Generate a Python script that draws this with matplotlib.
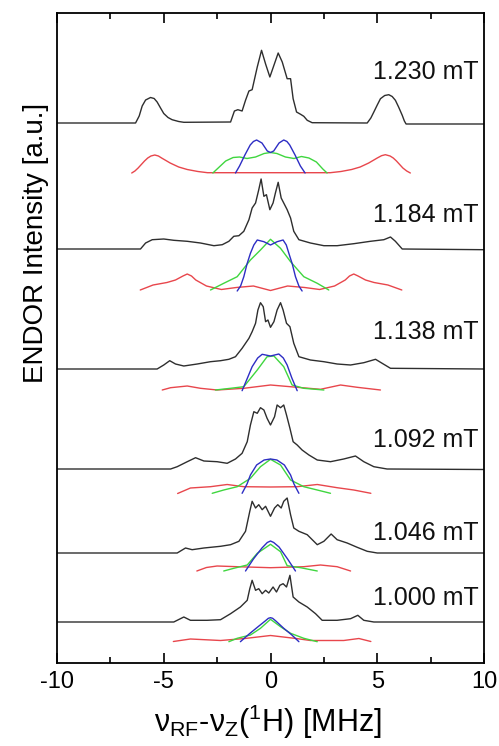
import matplotlib
matplotlib.use("Agg")
import matplotlib.pyplot as plt
from matplotlib.ticker import MultipleLocator

plt.rcParams['font.family'] = ['Liberation Sans', 'DejaVu Sans']
plt.rcParams['mathtext.default'] = 'regular'
plt.rcParams['axes.unicode_minus'] = False

# ---------------- data (x in MHz, intensity in arbitrary units above each baseline) --------
fields = ["1.230 mT", "1.184 mT", "1.138 mT", "1.092 mT", "1.046 mT", "1.000 mT"]

exp_1230 = [(-10, 0), (-6.32, 0), (-6.15, 7), (-6.01, 17), (-5.85, 23), (-5.62, 25.5), (-5.45, 24.5),
            (-5.31, 21), (-5.15, 15), (-5.0, 9.5), (-4.8, 5.5), (-4.61, 3.3), (-4.3, 1.5),
            (-4.06, 0.7), (-1.87, 1), (-1.69, 12), (-1.53, 13.3), (-1.33, 12),
            (-1.17, 22.7), (-1.01, 32), (-0.86, 33.3), (-0.62, 56), (-0.42, 72.7), (-0.23, 59),
            (-0.03, 46), (0.16, 57.7), (0.36, 70), (0.55, 61), (0.78, 44.3), (0.94, 44.3),
            (1.06, 24.3), (1.22, 11), (1.41, 8.7), (1.56, 6.7), (1.72, 2.7), (1.95, 0.3),
            (4.53, 0), (4.7, 5), (4.84, 11), (5.0, 18), (5.15, 24.3), (5.35, 27.5), (5.54, 28.3),
            (5.7, 26.5), (5.85, 22.7), (6.0, 16), (6.17, 7.7), (6.27, 2), (6.35, -1), (10, -1)]
exp_1184 = [(-10, 0), (-6.09, 0), (-5.85, 6), (-5.54, 9.3), (-5.0, 10), (-4.53, 8.7), (-3.9, 7.7),
            (-3.28, 6), (-2.65, 3.3), (-2.26, 4.3), (-1.95, 7.7), (-1.72, 12.7), (-1.48, 13.3),
            (-1.25, 17.7), (-1.01, 29.3), (-0.86, 41), (-0.7, 46), (-0.55, 59.3), (-0.44, 70),
            (-0.31, 52.7), (-0.19, 54.3), (-0.03, 39.3), (0.12, 46), (0.23, 56), (0.36, 66.7),
            (0.5, 51), (0.62, 46), (0.78, 39.3), (0.94, 31), (1.09, 17.7), (1.33, 9.3),
            (1.87, 6), (2.5, 3.3), (3.12, 3.3), (3.9, 5.3), (4.68, 7.7), (5.31, 9.3), (5.62, 12),
            (5.85, 7.7), (6.17, 0), (10, -0.7)]
exp_1138 = [(-10, 0), (-5.31, 0), (-5.0, 4), (-4.72, 8.3), (-4.45, 5), (-4.06, 3), (-3.43, 5),
            (-2.81, 7.3), (-2.34, 8.3), (-1.95, 9.7), (-1.64, 12.3), (-1.33, 20.7), (-1.01, 30.7),
            (-0.86, 37.3), (-0.7, 45.7), (-0.59, 59), (-0.47, 66.3), (-0.34, 62.3), (-0.23, 47.3),
            (-0.12, 49), (0, 41.7), (0.16, 47.3), (0.31, 59), (0.47, 66.3), (0.59, 59),
            (0.75, 45.7), (0.91, 42.3), (1.09, 25.7), (1.33, 12.3), (1.87, 9), (2.5, 7.3),
            (3.12, 5), (3.75, 4), (4.37, 6.3), (4.92, 9.7), (5.23, 5.7), (5.62, 0.7), (10, 0)]
exp_1092 = [(-10, 0), (-4.68, 0), (-4.37, 2.3), (-3.9, 7.3), (-3.51, 11.3), (-3.12, 8), (-2.5, 7.3),
            (-2.03, 5.7), (-1.64, 10), (-1.33, 15.7), (-1.09, 27.3), (-0.94, 44), (-0.78, 57.3),
            (-0.62, 55.7), (-0.47, 61.3), (-0.31, 59), (-0.16, 50.7), (0, 44), (0.19, 52.3),
            (0.31, 64), (0.47, 61.3), (0.62, 64), (0.75, 54), (0.91, 40.7), (1.06, 27.3),
            (1.25, 24), (1.48, 19), (1.8, 14), (2.19, 9), (2.81, 7.3), (3.43, 10), (3.98, 13),
            (4.37, 7.3), (4.84, 2.3), (5.46, 0), (10, -0.5)]
exp_1046 = [(-10, 0), (-4.37, 0), (-3.98, 5), (-3.67, 3.3), (-3.12, 5), (-2.34, 6.7), (-1.87, 8.3),
            (-1.48, 11.7), (-1.17, 21.7), (-0.97, 41.7), (-0.86, 51.7), (-0.7, 45), (-0.55, 48.3),
            (-0.39, 43.3), (-0.23, 46.7), (0, 36.7), (0.19, 45), (0.34, 48.3), (0.5, 45),
            (0.62, 51.7), (0.78, 55), (0.94, 38.3), (1.09, 25), (1.33, 21.7), (1.72, 18.3),
            (2.19, 8.3), (2.5, 11.7), (2.84, 19), (3.12, 13.3), (3.59, 10), (4.06, 5.7),
            (4.53, 1.7), (5.0, 0), (10, 0)]
exp_1000 = [(-10, 0), (-4.53, 0), (-4.22, 3.3), (-4.06, 5), (-3.75, 1.7), (-2.97, 1.7), (-2.34, 2.3),
            (-1.87, 8.3), (-1.41, 15), (-1.09, 21.7), (-0.97, 33.3), (-0.86, 41.7), (-0.7, 31.7),
            (-0.55, 33.3), (-0.39, 28.3), (-0.23, 31.7), (-0.08, 29), (0.12, 35), (0.28, 30),
            (0.44, 36.7), (0.59, 38.3), (0.75, 35), (0.91, 46.7), (1.06, 25), (1.33, 20),
            (1.72, 15), (2.11, 8.3), (2.42, 1.7), (3.12, 1.7), (3.75, 3.3), (4.09, 6.7),
            (4.37, 1.7), (4.84, 0), (10, 0)]

red_1230 = [(-6.5, 0), (-6.35, 2), (-6.2, 5), (-6.05, 8.5), (-5.9, 12), (-5.75, 15), (-5.6, 17),
            (-5.42, 18), (-5.25, 17), (-5.1, 15), (-4.9, 12.5), (-4.7, 10), (-4.5, 8),
            (-4.3, 6), (-3.9, 3.5), (-3.4, 1.5), (-2.95, 0.3),
            (2.8, 0.3), (3.3, 1.5), (3.8, 3.5), (4.2, 6), (4.4, 8), (4.6, 10), (4.8, 12.5),
            (5.0, 15), (5.2, 17.3), (5.38, 18.3), (5.6, 17), (5.75, 15), (5.9, 12), (6.05, 8.5),
            (6.2, 5), (6.38, 2), (6.55, 0)]
green_1230 = [(-2.7, 0), (-2.45, 5), (-2.1, 12), (-1.75, 15.5), (-1.45, 16), (-1.1, 14.5), (-0.7, 16),
              (-0.3, 19.5), (0, 20.5), (0.3, 19.5), (0.7, 16), (1.1, 14.5), (1.45, 16.5),
              (1.8, 15), (2.15, 11), (2.45, 4), (2.65, 0)]
blue_1230 = [(-1.64, 0), (-1.45, 7), (-1.2, 18), (-0.95, 28), (-0.8, 31.5), (-0.65, 33), (-0.4, 30),
             (-0.15, 22), (0, 20.5), (0.15, 22), (0.4, 30), (0.62, 33), (0.77, 31.5), (0.9, 28),
             (1.15, 18), (1.4, 7), (1.62, 0)]

red_1184 = [(-6.1, 1), (-5.5, 6), (-4.85, 8.5), (-4.45, 11), (-4.1, 15), (-3.9, 17), (-3.7, 15),
            (-3.5, 11), (-3.0, 5), (-2.3, 1.5), (-1.6, 3.5), (-0.8, 5), (0, 0.5), (0.8, 5),
            (1.6, 3.5), (2.3, 1.5), (3.0, 5), (3.5, 11), (3.7, 15), (3.9, 17), (4.1, 15),
            (4.45, 11), (4.85, 8.5), (5.5, 6), (6.15, 1)]
green_1184 = [(-2.81, 1), (-2.19, 7.7), (-1.56, 14.3), (-0.94, 31), (-0.47, 41), (0, 51.7),
              (0.47, 42.7), (0.94, 29.3), (1.56, 14.3), (2.19, 7.7), (2.73, 1)]
blue_1184 = [(-1.56, 0), (-1.4, 5), (-1.25, 14.3), (-1.1, 27), (-0.94, 37.7), (-0.78, 46), (-0.62, 51),
             (-0.31, 49.3), (0, 46), (0.31, 49.3), (0.59, 51), (0.74, 46), (0.86, 37.7),
             (1.02, 27), (1.17, 14.3), (1.33, 5), (1.48, 0)]

red_1138 = [(-5.07, 1), (-4.68, 3.3), (-3.9, 5), (-3.28, 2.7), (-2.5, 1), (-1.25, 2.7), (0, 6),
            (1.25, 3.7), (2.34, 1.7), (3.28, 6), (4.06, 3.7), (5.15, 1)]
green_1138 = [(-2.58, 1), (-1.87, 2.7), (-1.25, 4.3), (-0.62, 21), (-0.16, 34.3), (0.16, 35),
              (0.62, 24.3), (1.01, 6), (1.56, 2.7), (2.5, 1)]
blue_1138 = [(-1.33, 0.3), (-1.1, 12), (-0.86, 24.3), (-0.6, 33), (-0.39, 36.7), (0, 35),
             (0.39, 37), (0.6, 33), (0.78, 26), (1.0, 13), (1.25, 0.3)]

red_1092 = [(-4.35, 0.5), (-3.75, 6), (-2.81, 7.3), (-2.03, 9.5), (-1.25, 7.3), (0, 7), (1.25, 7.3),
            (2.19, 9.5), (3.12, 6.3), (3.9, 4), (4.7, 0.7)]
green_1092 = [(-2.73, 0.7), (-2.19, 4), (-1.56, 7.3), (-0.94, 15.7), (-0.47, 27.3), (0, 34.7),
              (0.47, 29), (0.94, 14), (1.56, 7.3), (2.19, 4), (2.81, 0.7)]
blue_1092 = [(-1.33, 0.7), (-1.1, 10), (-0.94, 19), (-0.65, 29), (-0.3, 34), (0, 35), (0.3, 34),
             (0.65, 29), (0.94, 19), (1.1, 10), (1.33, 0.7)]

red_1046 = [(-3.45, 1), (-3.0, 4.5), (-2.5, 6), (-1.56, 5.3), (0, 4.3), (1.56, 5.3), (2.34, 7),
            (3.12, 5.3), (3.75, 1)]
green_1046 = [(-2.19, 1), (-1.72, 3.7), (-1.09, 7), (-0.62, 18.7), (0, 27.7), (0.47, 20.3),
              (0.78, 6.3), (1.41, 4.3), (2.19, 1)]
blue_1046 = [(-1.17, 1), (-0.8, 13), (-0.4, 24), (-0.15, 29.5), (0, 31), (0.15, 29.5), (0.4, 25),
             (0.8, 13), (1.17, 1)]

red_1000 = [(-4.55, 0.5), (-3.75, 3), (-2.34, 1.5), (-1.2, 3.5), (0, 6.5), (1.2, 3.5), (1.87, 1.5),
            (3.43, 1.5), (4.14, 3.5), (4.7, 0.5)]
green_1000 = [(-1.95, 0.3), (-1.56, 3.7), (-0.94, 7), (-0.47, 13.7), (0, 22.7), (0.47, 15.3),
              (0.94, 8.7), (1.56, 3.7), (2.19, 0.3)]
blue_1000 = [(-1.41, 0.3), (-1.0, 8), (-0.6, 15), (-0.25, 21), (-0.1, 23.7), (0, 24.3), (0.1, 23.7),
             (0.25, 21), (0.62, 13.7), (1.0, 7), (1.33, 0.3)]

experiments = [exp_1230, exp_1184, exp_1138, exp_1092, exp_1046, exp_1000]
reds = [red_1230, red_1184, red_1138, red_1092, red_1046, red_1000]
greens = [green_1230, green_1184, green_1138, green_1092, green_1046, green_1000]
blues = [blue_1230, blue_1184, blue_1138, blue_1092, blue_1046, blue_1000]

# vertical stacking offsets (layout)
exp_offsets = [540, 414, 294, 194, 110, 41]
sim_offsets = [490, 372, 272, 169, 91, 21]
label_y = [591, 448, 331, 223, 130, 65]

# ---------------- plotting -----------------------------------------------------------------
fig = plt.figure(figsize=(4.99, 7.46), dpi=100)
ax = fig.add_axes([57 / 499, 1 - 663 / 746, 427 / 499, 650 / 746])

def draw(points, off, color, lw):
    xs = [p[0] for p in points]
    ys = [p[1] + off for p in points]
    ax.plot(xs, ys, color=color, lw=lw, solid_joinstyle='round', solid_capstyle='round')

for i in range(len(fields)):
    draw(experiments[i], exp_offsets[i], '#2e2e2e', 1.0)
    draw(reds[i], sim_offsets[i], '#e8464c', 1.0)
    draw(greens[i], sim_offsets[i], '#3fd63f', 1.0)
    draw(blues[i], sim_offsets[i], '#2d2dc4', 1.0)
    ax.text(9.75, label_y[i], fields[i], ha='right', va='center', fontsize=18, color='#111111')

ax.set_xlim(-10, 10)
ax.set_ylim(0, 650)
ax.set_yticks([])
ax.xaxis.set_major_locator(MultipleLocator(5))
ax.xaxis.set_minor_locator(MultipleLocator(2.5))
ax.tick_params(axis='x', which='both', direction='in', top=True, bottom=True,
               labelsize=17, pad=6, width=1.2)
ax.tick_params(axis='x', which='major', length=7)
ax.tick_params(axis='x', which='minor', length=4)
for s in ax.spines.values():
    s.set_linewidth(1.3)

fig.text(268 / 499, 1 - 732 / 746,
         r'ν$_{\mathregular{RF}}$-ν$_{\mathregular{Z}}$($^{\mathregular{1}}$H) [MHz]',
         ha='center', va='baseline', fontsize=22)
fig.text(36 / 499, 1 - 243 / 746, 'ENDOR Intensity [a.u.]', rotation=90,
         ha='center', va='center', fontsize=20)

fig.savefig('out.png', dpi=100)
